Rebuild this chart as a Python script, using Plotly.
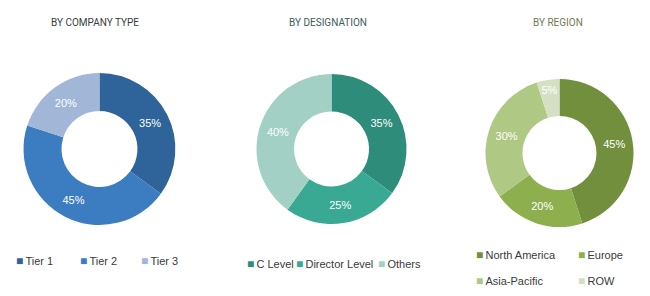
import plotly.graph_objects as go

# ---- data ----
company_labels = ["Tier 1", "Tier 2", "Tier 3"]
company_values = [35, 45, 20]
company_colors = ["#2e6499", "#3b7dc0", "#a2b6d8"]

desig_labels = ["C Level", "Director Level", "Others"]
desig_values = [35, 25, 40]
desig_colors = ["#2e8c7a", "#3aa993", "#a3d0c5"]

region_labels = ["North America", "Europe", "Asia-Pacific", "ROW"]
region_values = [45, 20, 30, 5]
region_colors = ["#718f3c", "#8daf4e", "#afc883", "#d4dfc4"]

titles = ["BY COMPANY TYPE", "BY DESIGNATION", "BY REGION"]
title_colors = ["#3a3d40", "#3d5c5c", "#6e7a52"]

W, H = 650, 296
fig = go.Figure()

domains = [
    dict(x=[0.036, 0.270], y=[0.240, 0.753]),
    dict(x=[0.3946, 0.6254], y=[0.2432, 0.750]),
    dict(x=[0.7469, 0.9746], y=[0.2331, 0.7331]),
]
sets = [
    (company_labels, company_values, company_colors),
    (desig_labels, desig_values, desig_colors),
    (region_labels, region_values, region_colors),
]

for (labels, values, colors), dom in zip(sets, domains):
    fig.add_trace(go.Pie(
        labels=labels, values=values, hole=0.5, sort=False,
        direction="clockwise", rotation=0,
        marker=dict(colors=colors, line=dict(width=0)),
        texttemplate="%{value}%", textposition="inside",
        insidetextorientation="horizontal",
        insidetextfont=dict(color="white", size=11, family="Liberation Sans"),
        domain=dom, showlegend=False, hoverinfo="label+value",
    ))

ann = []
title_x = [95, 327.5, 557.5]
for t, c, x in zip(titles, title_colors, title_x):
    ann.append(dict(text=t, x=x / W, y=1 - 22 / H, xref="paper", yref="paper",
                    showarrow=False, xanchor="center", yanchor="middle",
                    font=dict(family="Roboto", size=10, color=c)))

# legend keys (square + label), placed left to right, row by row
legend_items = [
    (company_labels, company_colors, [15.5, 79.5, 140.5], [261, 261, 261]),
    (desig_labels, desig_colors, [247, 296, 378], [264, 264, 264]),
    (region_labels, region_colors, [476, 577.5, 476, 577.5], [255, 255, 281, 281]),
]
for labels, colors, xs, ys in legend_items:
    for lab, col, x, y in zip(labels, colors, xs, ys):
        ann.append(dict(
            text=f'<span style="font-size:12px;color:{col}">■</span>\u2009{lab}',
            x=(x - 2) / W, y=1 - y / H, xref="paper", yref="paper",
            showarrow=False, xanchor="left", yanchor="middle",
            font=dict(family="Liberation Sans", size=11, color="#3a3a3a"),
        ))

fig.update_layout(
    width=W, height=H,
    margin=dict(l=0, r=0, t=0, b=0, autoexpand=False),
    paper_bgcolor="white", plot_bgcolor="white",
    annotations=ann,
    showlegend=False,
)

fig.write_html("out.html")
